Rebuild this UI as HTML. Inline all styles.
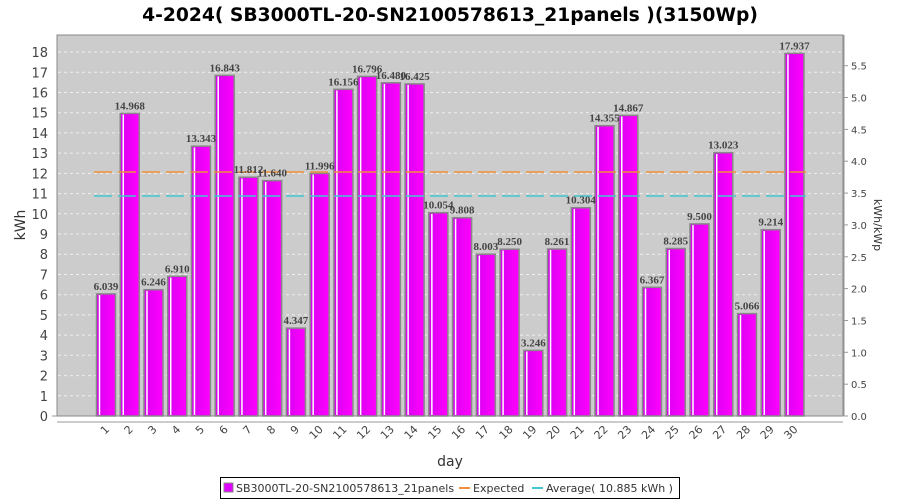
<!DOCTYPE html>
<html><head><meta charset="utf-8"><style>body{margin:0;background:#fff}svg{display:block}</style></head><body>
<svg width="900" height="500" xmlns="http://www.w3.org/2000/svg" font-family="DejaVu Sans, sans-serif">
<rect width="900" height="500" fill="#fff"/>
<text x="450" y="21" text-anchor="middle" font-size="18.7" font-weight="bold">4-2024( SB3000TL-20-SN2100578613_21panels )(3150Wp)</text>
<rect x="57" y="35" width="786" height="381" fill="#cccccc" stroke="#888" stroke-width="1"/>
<g stroke="#eeeeee" stroke-width="1" stroke-dasharray="3,3">
<line x1="58" x2="842" y1="395.8" y2="395.8"/><line x1="58" x2="842" y1="375.6" y2="375.6"/><line x1="58" x2="842" y1="355.3" y2="355.3"/><line x1="58" x2="842" y1="335.1" y2="335.1"/><line x1="58" x2="842" y1="314.9" y2="314.9"/><line x1="58" x2="842" y1="294.7" y2="294.7"/><line x1="58" x2="842" y1="274.5" y2="274.5"/><line x1="58" x2="842" y1="254.2" y2="254.2"/><line x1="58" x2="842" y1="234.0" y2="234.0"/><line x1="58" x2="842" y1="213.8" y2="213.8"/><line x1="58" x2="842" y1="193.6" y2="193.6"/><line x1="58" x2="842" y1="173.4" y2="173.4"/><line x1="58" x2="842" y1="153.1" y2="153.1"/><line x1="58" x2="842" y1="132.9" y2="132.9"/><line x1="58" x2="842" y1="112.7" y2="112.7"/><line x1="58" x2="842" y1="92.5" y2="92.5"/><line x1="58" x2="842" y1="72.3" y2="72.3"/><line x1="58" x2="842" y1="52.0" y2="52.0"/>
</g>
<g font-size="13" fill="#444" text-anchor="end">
<text x="48" y="421">0</text><text x="48" y="400.8">1</text><text x="48" y="380.6">2</text><text x="48" y="360.3">3</text><text x="48" y="340.1">4</text><text x="48" y="319.9">5</text><text x="48" y="299.7">6</text><text x="48" y="279.5">7</text><text x="48" y="259.2">8</text><text x="48" y="239">9</text><text x="48" y="218.8">10</text><text x="48" y="198.6">11</text><text x="48" y="178.4">12</text><text x="48" y="158.1">13</text><text x="48" y="137.9">14</text><text x="48" y="117.7">15</text><text x="48" y="97.5">16</text><text x="48" y="77.3">17</text><text x="48" y="57">18</text>
</g>
<g stroke="#999"><line x1="52" x2="57" y1="416" y2="416"/><line x1="57" x2="843" y1="422" y2="422"/><line x1="844" x2="844" y1="35" y2="416"/></g>
<g stroke="#999">
<line x1="844" x2="848" y1="416" y2="416"/><line x1="844" x2="848" y1="384.2" y2="384.2"/><line x1="844" x2="848" y1="352.3" y2="352.3"/><line x1="844" x2="848" y1="320.5" y2="320.5"/><line x1="844" x2="848" y1="288.6" y2="288.6"/><line x1="844" x2="848" y1="256.8" y2="256.8"/><line x1="844" x2="848" y1="224.9" y2="224.9"/><line x1="844" x2="848" y1="193.1" y2="193.1"/><line x1="844" x2="848" y1="161.2" y2="161.2"/><line x1="844" x2="848" y1="129.4" y2="129.4"/><line x1="844" x2="848" y1="97.5" y2="97.5"/><line x1="844" x2="848" y1="65.7" y2="65.7"/>
</g>
<g font-size="10" fill="#444">
<text x="851" y="420">0.0</text><text x="851" y="388.2">0.5</text><text x="851" y="356.3">1.0</text><text x="851" y="324.5">1.5</text><text x="851" y="292.6">2.0</text><text x="851" y="260.8">2.5</text><text x="851" y="228.9">3.0</text><text x="851" y="197.1">3.5</text><text x="851" y="165.2">4.0</text><text x="851" y="133.4">4.5</text><text x="851" y="101.5">5.0</text><text x="851" y="69.7">5.5</text>
</g>
<text transform="translate(874,225) rotate(90)" text-anchor="middle" font-size="11" fill="#333">kWh/kWp</text>
<text transform="translate(25,225) rotate(-90)" text-anchor="middle" font-size="14" fill="#333">kWh</text>
<text x="450" y="466" text-anchor="middle" font-size="14" fill="#333">day</text>
<defs><linearGradient id="g" x1="0" x2="1"><stop offset="0" stop-color="#d800f0"/><stop offset="1" stop-color="#ff00ff"/></linearGradient></defs>
<g stroke="#888" stroke-width="1.5" fill="url(#g)">
<rect x="96.5" y="293.9" width="19" height="122.1"/>
<rect x="120.24" y="113.4" width="19" height="302.6"/>
<rect x="143.98" y="289.7" width="19" height="126.3"/>
<rect x="167.72" y="276.3" width="19" height="139.7"/>
<rect x="191.46" y="146.2" width="19" height="269.8"/>
<rect x="215.2" y="75.4" width="19" height="340.6"/>
<rect x="238.94" y="177.2" width="19" height="238.8"/>
<rect x="262.68" y="180.6" width="19" height="235.4"/>
<rect x="286.42" y="328.1" width="19" height="87.9"/>
<rect x="310.16" y="173.4" width="19" height="242.6"/>
<rect x="333.9" y="89.3" width="19" height="326.7"/>
<rect x="357.64" y="76.4" width="19" height="339.6"/>
<rect x="381.38" y="82.8" width="19" height="333.2"/>
<rect x="405.12" y="83.9" width="19" height="332.1"/>
<rect x="428.86" y="212.7" width="19" height="203.3"/>
<rect x="452.6" y="217.7" width="19" height="198.3"/>
<rect x="476.34" y="254.2" width="19" height="161.8"/>
<rect x="500.08" y="249.2" width="19" height="166.8"/>
<rect x="523.82" y="350.4" width="19" height="65.6"/>
<rect x="547.56" y="249.0" width="19" height="167.0"/>
<rect x="571.3" y="207.7" width="19" height="208.3"/>
<rect x="595.04" y="125.7" width="19" height="290.3"/>
<rect x="618.78" y="115.4" width="19" height="300.6"/>
<rect x="642.52" y="287.3" width="19" height="128.7"/>
<rect x="666.26" y="248.5" width="19" height="167.5"/>
<rect x="690" y="223.9" width="19" height="192.1"/>
<rect x="713.74" y="152.7" width="19" height="263.3"/>
<rect x="737.48" y="313.6" width="19" height="102.4"/>
<rect x="761.22" y="229.7" width="19" height="186.3"/>
<rect x="784.96" y="53.3" width="19" height="362.7"/>
</g>
<g stroke="#fff" stroke-width="1.5">
<line x1="99.5" x2="99.5" y1="295" y2="415"/><line x1="123.24" x2="123.24" y1="114.5" y2="415"/><line x1="146.98" x2="146.98" y1="291" y2="415"/><line x1="170.72" x2="170.72" y1="277.5" y2="415"/><line x1="194.46" x2="194.46" y1="147.5" y2="415"/><line x1="218.2" x2="218.2" y1="76.5" y2="415"/><line x1="241.94" x2="241.94" y1="178.5" y2="415"/><line x1="265.68" x2="265.68" y1="182" y2="415"/><line x1="289.42" x2="289.42" y1="329.5" y2="415"/><line x1="313.16" x2="313.16" y1="174.5" y2="415"/><line x1="336.9" x2="336.9" y1="90.5" y2="415"/><line x1="360.64" x2="360.64" y1="77.5" y2="415"/><line x1="384.38" x2="384.38" y1="84" y2="415"/><line x1="408.12" x2="408.12" y1="85" y2="415"/><line x1="431.86" x2="431.86" y1="214" y2="415"/><line x1="455.6" x2="455.6" y1="219" y2="415"/><line x1="479.34" x2="479.34" y1="255.5" y2="415"/><line x1="503.08" x2="503.08" y1="250.5" y2="415"/><line x1="526.82" x2="526.82" y1="351.5" y2="415"/><line x1="550.56" x2="550.56" y1="250" y2="415"/><line x1="574.3" x2="574.3" y1="209" y2="415"/><line x1="598.04" x2="598.04" y1="127" y2="415"/><line x1="621.78" x2="621.78" y1="116.5" y2="415"/><line x1="645.52" x2="645.52" y1="288.5" y2="415"/><line x1="669.26" x2="669.26" y1="250" y2="415"/><line x1="693" x2="693" y1="225" y2="415"/><line x1="716.74" x2="716.74" y1="154" y2="415"/><line x1="740.48" x2="740.48" y1="315" y2="415"/><line x1="764.22" x2="764.22" y1="231" y2="415"/><line x1="787.96" x2="787.96" y1="54.5" y2="415"/>
</g>
<line x1="94" x2="806" y1="172" y2="172" stroke="#f0903a" stroke-width="1.5" stroke-dasharray="18,6"/>
<line x1="94" x2="806" y1="196" y2="196" stroke="#40c8d0" stroke-width="1.5" stroke-dasharray="18,6"/>
<g font-family="Liberation Serif, serif" font-weight="bold" font-size="11" fill="#444" text-anchor="middle">
<text x="106" y="290">6.039</text><text x="129.74" y="109.5">14.968</text><text x="153.48" y="285.7">6.246</text><text x="177.22" y="272.3">6.910</text><text x="200.96" y="142.2">13.343</text><text x="224.7" y="71.4">16.843</text><text x="248.44" y="173.2">11.812</text><text x="272.18" y="176.6">11.640</text><text x="295.92" y="324.1">4.347</text><text x="319.66" y="169.4">11.996</text><text x="343.4" y="85.3">16.156</text><text x="367.14" y="72.4">16.796</text><text x="390.88" y="78.8">16.480</text><text x="414.62" y="79.9">16.425</text><text x="438.36" y="208.7">10.054</text><text x="462.1" y="213.7">9.808</text><text x="485.84" y="250.2">8.003</text><text x="509.58" y="245.2">8.250</text><text x="533.32" y="346.4">3.246</text><text x="557.06" y="245">8.261</text><text x="580.8" y="203.7">10.304</text><text x="604.54" y="121.7">14.355</text><text x="628.28" y="111.4">14.867</text><text x="652.02" y="283.3">6.367</text><text x="675.76" y="244.5">8.285</text><text x="699.5" y="219.9">9.500</text><text x="723.24" y="148.7">13.023</text><text x="746.98" y="309.6">5.066</text><text x="770.72" y="225.7">9.214</text><text x="794.46" y="49.3">17.937</text>
</g>
<g font-size="11" fill="#444" text-anchor="end">
<text transform="translate(110,430) rotate(-45)">1</text><text transform="translate(133.74,430) rotate(-45)">2</text><text transform="translate(157.48,430) rotate(-45)">3</text><text transform="translate(181.22,430) rotate(-45)">4</text><text transform="translate(204.96,430) rotate(-45)">5</text><text transform="translate(228.7,430) rotate(-45)">6</text><text transform="translate(252.44,430) rotate(-45)">7</text><text transform="translate(276.18,430) rotate(-45)">8</text><text transform="translate(299.92,430) rotate(-45)">9</text><text transform="translate(323.66,430) rotate(-45)">10</text><text transform="translate(347.4,430) rotate(-45)">11</text><text transform="translate(371.14,430) rotate(-45)">12</text><text transform="translate(394.88,430) rotate(-45)">13</text><text transform="translate(418.62,430) rotate(-45)">14</text><text transform="translate(442.36,430) rotate(-45)">15</text><text transform="translate(466.1,430) rotate(-45)">16</text><text transform="translate(489.84,430) rotate(-45)">17</text><text transform="translate(513.58,430) rotate(-45)">18</text><text transform="translate(537.32,430) rotate(-45)">19</text><text transform="translate(561.06,430) rotate(-45)">20</text><text transform="translate(584.8,430) rotate(-45)">21</text><text transform="translate(608.54,430) rotate(-45)">22</text><text transform="translate(632.28,430) rotate(-45)">23</text><text transform="translate(656.02,430) rotate(-45)">24</text><text transform="translate(679.76,430) rotate(-45)">25</text><text transform="translate(703.5,430) rotate(-45)">26</text><text transform="translate(727.24,430) rotate(-45)">27</text><text transform="translate(750.98,430) rotate(-45)">28</text><text transform="translate(774.72,430) rotate(-45)">29</text><text transform="translate(798.46,430) rotate(-45)">30</text>
</g>
<rect x="220.5" y="477.5" width="459" height="21" fill="#fff" stroke="#000"/>
<rect x="224" y="483" width="9" height="9" fill="#e000ff" stroke="#888"/>
<g font-size="11" fill="#333">
<text x="236" y="492">SB3000TL-20-SN2100578613_21panels</text>
<text x="473" y="492">Expected</text>
<text x="546" y="492">Average( 10.885 kWh )</text>
</g>
<line x1="459" x2="470" y1="488" y2="488" stroke="#f0903a" stroke-width="2"/>
<line x1="532" x2="543" y1="488" y2="488" stroke="#40c8d0" stroke-width="2"/>
</svg>
</body></html>
